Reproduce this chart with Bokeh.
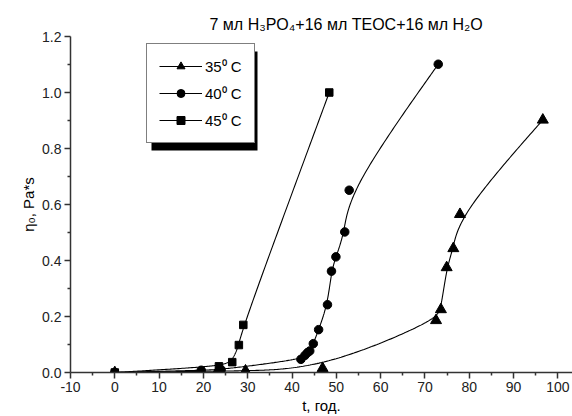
import numpy as np
from bokeh.plotting import figure
from bokeh.models import (Range1d, FixedTicker, Legend, LegendItem, BoxAnnotation,
                          CustomJSTickFormatter)
from bokeh.embed import file_html
from bokeh.resources import INLINE

# ---- data ----
t35 = [0, 23.2, 23.9, 29.5, 46.9, 72.5, 73.6, 74.9, 76.4, 77.9, 96.6]
v35 = [0.0, 0.005, 0.005, 0.006, 0.015, 0.186, 0.225, 0.375, 0.443, 0.565, 0.902]
t40 = [0, 19.5, 24.0, 42.0, 42.9, 43.5, 44.0, 44.8, 46.0, 48.0, 48.9, 49.9, 51.9, 52.9, 73.0]
v40 = [0.0, 0.008, 0.01, 0.047, 0.061, 0.071, 0.077, 0.103, 0.153, 0.242, 0.362, 0.413, 0.502, 0.651, 1.101]
t45 = [0, 23.5, 26.5, 28.0, 29.0, 48.4]
v45 = [0.0, 0.022, 0.037, 0.098, 0.17, 1.0]
x_ticks = [-10, 0, 10, 20, 30, 40, 50, 60, 70, 80, 90, 100]
y_ticks = [0.0, 0.2, 0.4, 0.6, 0.8, 1.0, 1.2]
series_labels = ["35\u2070 C", "40\u2070 C", "45\u2070 C"]
title_text = "7 мл H\u2083PO\u2084+16 мл TEOC+16 мл H\u2082O"
x_label = "t, год."
y_label = "\u03b7\u2080, Pa*s"


def bspline(xs, ys, n=40):
    P = np.column_stack([xs, ys]).astype(float)
    P = np.vstack([P[0], P[0], P, P[-1], P[-1]])
    s = np.linspace(0, 1, n)
    b0 = (1 - s) ** 3 / 6
    b1 = (3 * s ** 3 - 6 * s ** 2 + 4) / 6
    b2 = (-3 * s ** 3 + 3 * s ** 2 + 3 * s + 1) / 6
    b3 = s ** 3 / 6
    out = []
    for i in range(len(P) - 3):
        seg = (b0[:, None] * P[i] + b1[:, None] * P[i + 1]
               + b2[:, None] * P[i + 2] + b3[:, None] * P[i + 3])
        out.append(seg)
    c = np.vstack(out)
    return c[:, 0], c[:, 1]


FONT = "Liberation Sans"

p = figure(width=572, height=416, output_backend="svg", toolbar_location=None,
           x_range=Range1d(-10, 103.3), y_range=Range1d(0, 1.2),
           min_border_left=70, min_border_right=0, min_border_top=36,
           min_border_bottom=42, background_fill_color="white",
           border_fill_color="white", outline_line_color=None)
p.grid.visible = False

p.title.text = title_text
p.title.align = "left"
p.title.offset = 139
p.title.text_font = FONT
p.title.text_font_size = "16px"
p.title.text_font_style = "normal"
p.title.text_color = "black"
p.title.standoff = 7

for ax, ticks in ((p.xaxis[0], x_ticks), (p.yaxis[0], y_ticks)):
    ax.ticker = FixedTicker(ticks=ticks,
                            minor_ticks=[(a + b) / 2 for a, b in zip(ticks[:-1], ticks[1:])])
    ax.axis_line_color = "#333333"
    ax.axis_line_width = 1.5
    ax.major_tick_line_color = "#333333"
    ax.major_tick_line_width = 1.5
    ax.minor_tick_line_color = "#333333"
    ax.minor_tick_line_width = 1.5
    ax.major_tick_in = 0
    ax.major_tick_out = 6
    ax.minor_tick_in = 0
    ax.minor_tick_out = 3
    ax.major_label_text_font = FONT
    ax.major_label_text_font_size = "14px"
    ax.major_label_text_color = "#222222"
    ax.major_label_standoff = 3
    ax.axis_label_text_font = FONT
    ax.axis_label_text_font_size = "15px"
    ax.axis_label_text_font_style = "normal"
    ax.axis_label_text_color = "black"
    ax.axis_label_standoff = 2

p.xaxis[0].axis_label = x_label
p.yaxis[0].axis_label = y_label
p.xaxis[0].formatter = CustomJSTickFormatter(code="return String(tick);")
p.yaxis[0].formatter = CustomJSTickFormatter(code="return tick.toFixed(1);")

items = []
for ts, vs, mk, sz, lab in ((t35, v35, "triangle", 11, series_labels[0]),
                             (t40, v40, "circle", 8.5, series_labels[1]),
                             (t45, v45, "square", 7.5, series_labels[2])):
    cx, cy = bspline(ts, vs)
    r1 = p.line(cx, cy, line_color="black", line_width=1.1)
    r2 = p.scatter(ts, vs, marker=mk, size=sz, fill_color="black", line_color="black")
    items.append(LegendItem(label=lab, renderers=[r1, r2]))

shadow = BoxAnnotation(left=151, right=257, top=51, bottom=150,
                       left_units="canvas", right_units="canvas",
                       top_units="canvas", bottom_units="canvas",
                       fill_color="black", fill_alpha=1.0, line_color=None)
p.add_layout(shadow)

legend = Legend(items=items, location=(76, 229), orientation="vertical",
                border_line_color="black", border_line_width=1,
                background_fill_color="white", background_fill_alpha=1.0,
                glyph_width=43, glyph_height=20, label_height=20,
                label_standoff=3, spacing=7, padding=12, margin=0,
                label_text_font=FONT, label_text_font_size="15px",
                label_text_color="black")
p.add_layout(legend, "center")

open("out.html", "w").write(file_html(p, INLINE))
